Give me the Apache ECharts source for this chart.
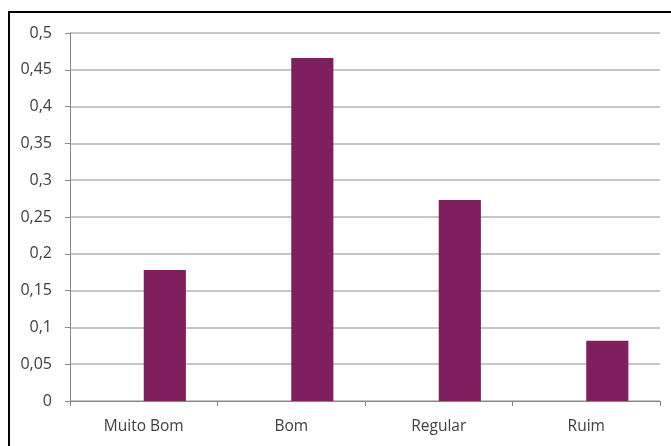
<!DOCTYPE html>
<html><head><meta charset="utf-8">
<script src="https://cdn.jsdelivr.net/npm/echarts@6/dist/echarts.min.js"></script>
<style>html,body{margin:0;padding:0;background:#fff}#c{width:671px;height:446px}</style>
</head><body><div id="c"></div>
<script>
var categories = ['Muito Bom', 'Bom', 'Regular', 'Ruim'];
var values = [0.178, 0.466, 0.273, 0.082];
var emptySeries = [null, null, null, null];
var yTicks = {min: 0, max: 0.5, interval: 0.05};

var chart = echarts.init(document.getElementById('c'), null, {renderer: 'canvas'});
var fmt = function (v) { return String(Math.round(v * 100) / 100).replace('.', ','); };
chart.setOption({
  animation: false,
  backgroundColor: '#fff',
  grid: {left: 70, right: 11, top: 33, bottom: 45, containLabel: false},
  graphic: [
    {type: 'line', shape: {x1: 9, y1: 12, x2: 9, y2: 446}, style: {stroke: '#000', lineWidth: 2}},
    {type: 'line', shape: {x1: 8, y1: 12, x2: 671, y2: 12}, style: {stroke: '#000', lineWidth: 2}}
  ],
  xAxis: {
    type: 'category', data: categories,
    axisLine: {lineStyle: {color: '#868686', width: 1}},
    axisTick: {show: true, length: 5, inside: false, alignWithLabel: false, lineStyle: {color: '#868686'}},
    axisLabel: {color: '#404040', fontFamily: 'Open Sans', fontSize: 15.5, margin: 18}
  },
  yAxis: {
    type: 'value', min: yTicks.min, max: yTicks.max, interval: yTicks.interval,
    axisLine: {show: true, lineStyle: {color: '#868686', width: 1}},
    axisTick: {show: true, length: 5, lineStyle: {color: '#868686'}},
    splitLine: {show: true, lineStyle: {color: '#b3b3b3', width: 1.5}},
    axisLabel: {color: '#404040', fontFamily: 'Open Sans', fontSize: 16, margin: 18, formatter: fmt}
  },
  series: [
    {type: 'bar', data: emptySeries, barGap: '0%', barCategoryGap: '42.86%', itemStyle: {color: '#801f5e'}},
    {type: 'bar', data: values, barGap: '0%', barCategoryGap: '42.86%', itemStyle: {color: '#801f5e'}}
  ]
});
</script></body></html>
